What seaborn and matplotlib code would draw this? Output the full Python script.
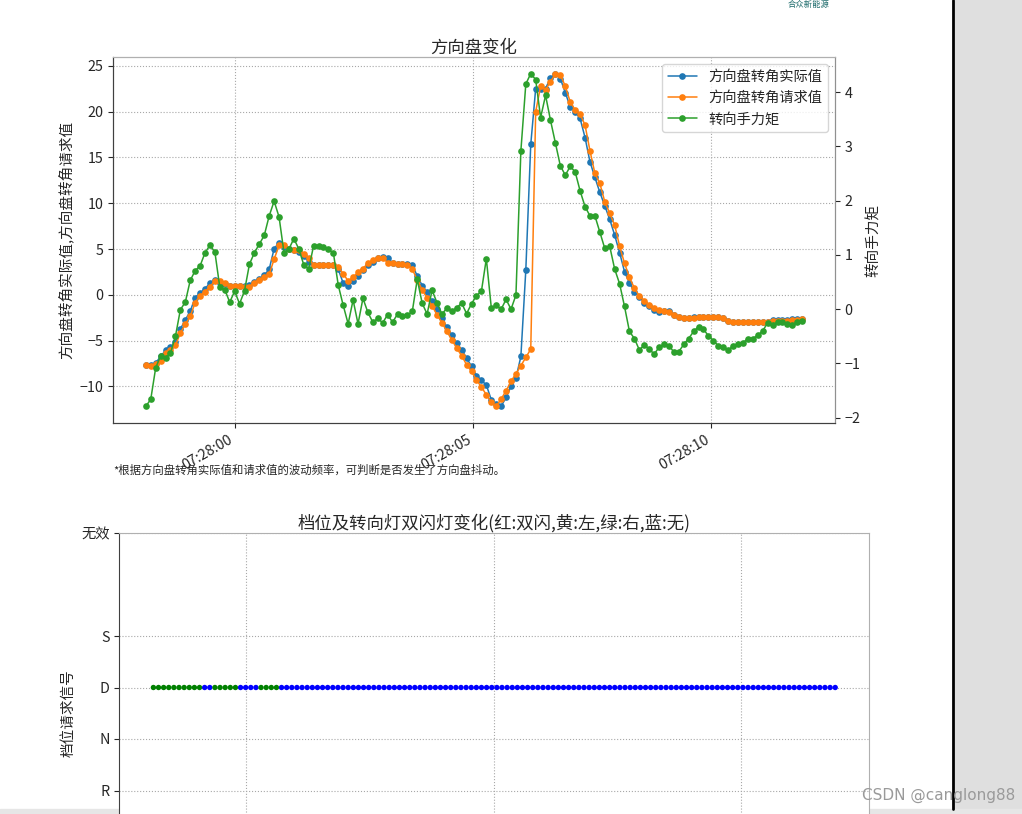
import numpy as np
import pandas as pd
import matplotlib
matplotlib.use('Agg')
import matplotlib.pyplot as plt
import matplotlib.dates as mdates
import seaborn as sns

# 采样时间范围 (等间隔采样)
t_start = '2022-07-01 07:27:58.120'
t_end = '2022-07-01 07:28:11.905'

# 方向盘转角实际值
angle_actual = [
    -7.72, -7.68, -7.46, -6.73, -6.08, -5.75, -5.13, -3.75, -2.74, -1.79,
    -0.30, 0.17, 0.68, 1.26, 1.63, 1.34, 1.15, 1.01, 0.94, 0.94,
    0.94, 1.08, 1.45, 1.77, 2.14, 2.79, 5.04, 5.70, 5.19, 5.00,
    4.90, 4.72, 4.24, 3.59, 3.23, 3.23, 3.23, 3.23, 3.23, 2.79,
    1.26, 1.01, 1.52, 2.06, 2.72, 3.26, 3.55, 3.99, 4.17, 3.99,
    3.52, 3.34, 3.34, 3.34, 3.26, 2.06, 1.01, 0.29, -0.73, -1.53,
    -2.55, -3.54, -4.37, -5.28, -6.01, -6.92, -7.82, -8.84, -9.35, -9.86,
    -11.46, -11.90, -12.19, -11.21, -10.01, -9.10, -6.73, 2.72, 16.42, 22.53,
    22.53, 22.53, 23.69, 24.16, 23.62, 22.09, 20.53, 19.98, 19.26, 17.18,
    14.53, 12.82, 11.19, 9.70, 8.24, 6.53, 4.61, 2.53, 1.26, 0.35,
    -0.26, -0.85, -1.28, -1.64, -1.83, -1.79, -1.79, -2.19, -2.44, -2.55,
    -2.55, -2.44, -2.44, -2.44, -2.44, -2.44, -2.44, -2.59, -2.84, -2.99,
    -2.99, -2.99, -2.99, -2.99, -2.92, -2.92, -2.92, -2.74, -2.74, -2.74,
    -2.74, -2.66, -2.63, -2.63,
]

# 方向盘转角请求值
angle_request = [
    -7.72, -7.75, -7.57, -7.21, -6.41, -6.01, -5.53, -4.19, -3.21, -2.37,
    -0.85, -0.08, 0.32, 0.90, 1.52, 1.52, 1.26, 0.94, 0.94, 0.94,
    0.87, 0.90, 1.34, 1.63, 1.92, 2.25, 3.88, 5.41, 5.41, 5.00,
    4.90, 4.90, 4.46, 3.99, 3.23, 3.23, 3.23, 3.23, 3.23, 3.08,
    2.28, 1.52, 1.92, 2.46, 2.87, 3.44, 3.81, 3.99, 3.99, 3.52,
    3.44, 3.34, 3.34, 3.26, 2.79, 1.63, 0.54, -0.36, -1.20, -2.19,
    -3.03, -4.01, -4.92, -5.83, -6.66, -7.64, -8.37, -9.30, -10.08, -10.91,
    -11.75, -12.19, -11.39, -10.48, -9.46, -8.62, -7.75, -6.84, -5.94, 20.00,
    22.80, 22.42, 23.26, 24.16, 24.05, 22.78, 21.07, 20.18, 19.74, 18.54,
    15.73, 13.26, 12.17, 10.17, 8.90, 7.62, 5.33, 3.44, 1.92, 0.72,
    -0.12, -0.63, -1.10, -1.46, -1.64, -1.72, -1.83, -2.19, -2.44, -2.55,
    -2.55, -2.55, -2.44, -2.44, -2.44, -2.44, -2.44, -2.59, -2.84, -2.99,
    -2.99, -2.99, -2.99, -2.99, -2.92, -2.92, -2.92, -2.84, -2.84, -2.81,
    -2.81, -2.74, -2.74, -2.66,
]

# 转向手力矩
torque = [
    -1.79, -1.66, -1.08, -0.86, -0.89, -0.81, -0.50, -0.01, 0.13, 0.53,
    0.71, 0.80, 1.04, 1.18, 1.05, 0.40, 0.36, 0.13, 0.33, 0.10,
    0.34, 0.83, 1.04, 1.20, 1.36, 1.72, 1.99, 1.70, 1.04, 1.11,
    1.30, 1.11, 0.82, 0.74, 1.17, 1.17, 1.14, 1.10, 1.04, 0.44,
    0.07, -0.27, 0.17, -0.27, 0.20, -0.06, -0.24, -0.17, -0.25, -0.10,
    -0.24, -0.09, -0.13, -0.11, -0.04, 0.55, 0.11, -0.09, 0.35, 0.12,
    -0.09, 0.02, -0.04, 0.03, 0.11, -0.08, 0.10, 0.25, 0.33, 0.93,
    0.03, 0.07, 0.00, 0.18, 0.00, 0.26, 2.92, 4.15, 4.34, 4.23,
    3.53, 3.94, 3.48, 3.06, 2.64, 2.47, 2.63, 2.53, 2.18, 1.89,
    1.72, 1.72, 1.42, 1.12, 1.16, 0.74, 0.47, 0.05, -0.41, -0.54,
    -0.75, -0.66, -0.73, -0.83, -0.70, -0.65, -0.67, -0.79, -0.78, -0.65,
    -0.54, -0.41, -0.32, -0.37, -0.49, -0.58, -0.67, -0.70, -0.76, -0.67,
    -0.64, -0.62, -0.54, -0.54, -0.48, -0.40, -0.25, -0.30, -0.24, -0.24,
    -0.27, -0.29, -0.24, -0.21,
]

# 转向灯状态 (状态, 连续采样点数)
turn_runs = [('右', 10), ('无', 2), ('右', 5), ('无', 4), ('右', 4), ('无', 109)]
# 档位请求信号
gear_runs = [('D', 134)]
gear_labels = ['R', 'N', 'D', 'S', '无效']
gear_codes = [1, 2, 3, 4, 6]
turn_colors = {'双闪': 'red', '左': 'yellow', '右': 'green', '无': 'blue'}

times = pd.date_range(t_start, t_end, periods=len(angle_actual))
df = pd.DataFrame({'time': times, 'actual': angle_actual,
                   'request': angle_request, 'torque': torque})
gear_map = dict(zip(gear_labels, gear_codes))
df['gear'] = [gear_map[g] for g, n in gear_runs for _ in range(n)]
df['turn'] = [s for s, n in turn_runs for _ in range(n)]

sns.set_style('ticks')
plt.rcParams['font.family'] = ['Noto Sans CJK SC', 'DejaVu Sans']
plt.rcParams['axes.unicode_minus'] = True

W, H = 1022, 814
fig = plt.figure(figsize=(W / 100, H / 100), dpi=100)

def box(l, t, r, b):
    return [l / W, 1 - b / H, (r - l) / W, (b - t) / H]

colors = sns.color_palette('tab10')
line_kw = dict(marker='o', markersize=4.8, markeredgewidth=0, linewidth=1.1)
grid_kw = dict(linestyle=':', color='#a8a8a8', linewidth=0.8)
every5 = mdates.SecondLocator(bysecond=range(0, 60, 5))

# ---------------- 方向盘变化 ----------------
ax = fig.add_axes(box(113, 57, 835, 423))
ax2 = ax.twinx()
sns.lineplot(data=df, x='time', y='actual', color=colors[0], label='方向盘转角实际值', ax=ax, **line_kw)
sns.lineplot(data=df, x='time', y='request', color=colors[1], label='方向盘转角请求值', ax=ax, **line_kw)
sns.lineplot(data=df, x='time', y='torque', color=colors[2], label='转向手力矩', ax=ax2, **line_kw)

h1, l1 = ax.get_legend_handles_labels()
h2, l2 = ax2.get_legend_handles_labels()
ax.get_legend().remove()
ax2.get_legend().remove()
leg = ax2.legend(h1 + h2, l1 + l2, loc='upper right', fontsize=10.3, framealpha=0.8)

ax.set_title('方向盘变化', fontsize=12.5, pad=3)
ax.set_ylabel('方向盘转角实际值,方向盘转角请求值', fontsize=10.5)
ax2.set_ylabel('转向手力矩', fontsize=10.5)
ax.set_xlabel('')
ax.set_yticks([-10, -5, 0, 5, 10, 15, 20, 25])
ax.xaxis.set_major_locator(every5)
ax.xaxis.set_major_formatter(mdates.DateFormatter('%H:%M:%S'))
ax.grid(True, **grid_kw)
ax.tick_params(labelsize=10.3)
ax2.tick_params(labelsize=10.3)
for lab in ax.get_xticklabels():
    lab.set_rotation(30)
    lab.set_ha('right')

for a in (ax, ax2):
    a.spines['left'].set_color('#404040')
    a.spines['bottom'].set_color('#404040')
    a.spines['top'].set_color('#b0b0b0')
    a.spines['right'].set_color('#909090')

fig.text(113 / W, 1 - 470 / H, '*根据方向盘转角实际值和请求值的波动频率，可判断是否发生了方向盘抖动。',
         fontsize=8.2, va='center', ha='left')

# ---------------- 档位及转向灯 ----------------
bx = fig.add_axes(box(119.3, 533, 869.3, 893.5))
sns.scatterplot(data=df, x='time', y='gear', hue='turn', palette=turn_colors,
                s=15, linewidth=0, legend=False, ax=bx)
bx.set_ylim(-1, 6)
bx.set_yticks(gear_codes)
bx.set_yticklabels(gear_labels)
bx.set_title('档位及转向灯双闪灯变化(红:双闪,黄:左,绿:右,蓝:无)', fontsize=12.5, pad=3)
bx.set_ylabel('档位请求信号', fontsize=10.5)
bx.set_xlabel('')
bx.xaxis.set_major_locator(mdates.SecondLocator(bysecond=range(0, 60, 5)))
bx.xaxis.set_major_formatter(mdates.DateFormatter('%H:%M:%S'))
bx.grid(True, **grid_kw)
bx.tick_params(labelsize=10.3, labelbottom=False)
bx.spines['left'].set_color('#404040')
bx.spines['bottom'].set_color('#404040')
bx.spines['top'].set_color('#b0b0b0')
bx.spines['right'].set_color('#b0b0b0')

# ---------------- 页面边框 ----------------
fig.add_artist(plt.Rectangle((955 / W, 0), 1 - 955 / W, 1, transform=fig.transFigure,
                             color='#dfdfdf', zorder=-1))
fig.add_artist(plt.Line2D([952.5 / W, 952.5 / W], [5 / H, 1], transform=fig.transFigure,
                          color='black', linewidth=2))
fig.add_artist(plt.Rectangle((0, 0), 1, 5.5 / H, transform=fig.transFigure,
                             color='#e6e6e6', zorder=-1))
fig.text(862 / W, 1 - 795 / H, 'CSDN @canglong88', fontsize=11, color='#9a9a9a',
         va='center', ha='left', family='DejaVu Sans')
fig.text(788 / W, 1 - 5 / H, '合众新能源', fontsize=6, color='#1d6b6b', va='center', ha='left')

fig.savefig('out.png', dpi=100)
